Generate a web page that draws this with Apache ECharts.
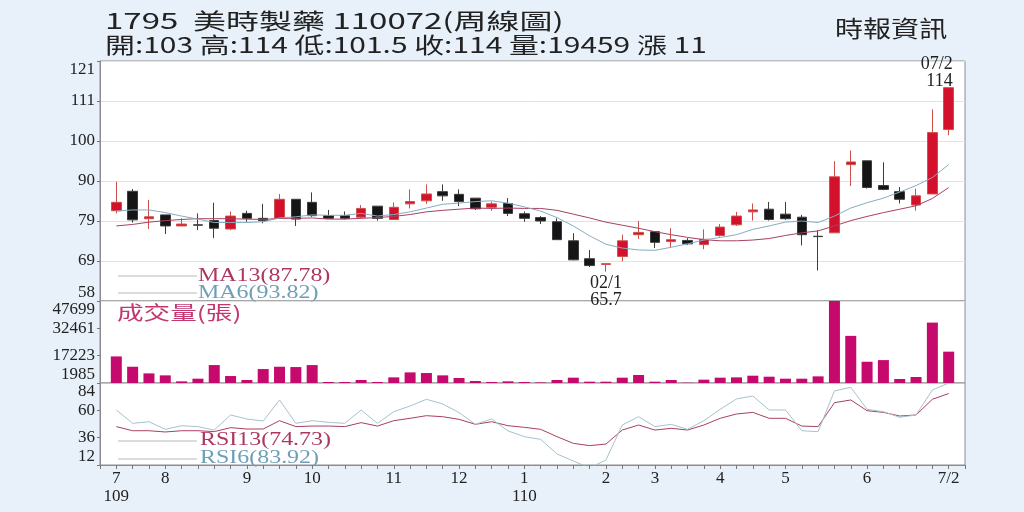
<!DOCTYPE html>
<html lang="zh-Hant">
<head>
<meta charset="UTF-8">
<title>1795 美時製藥 周線圖</title>
<script src="https://cdn.jsdelivr.net/npm/echarts@6/dist/echarts.min.js"></script>
<style>
    html, body { margin: 0; padding: 0; background: #e8f1fa; }
    #chart { width: 1024px; height: 512px; }
</style>
</head>
<body>
<div id="chart"></div>
<script type="text/javascript">
    // weekly candles, 109/07 .. 110/07/2
    var opens  = [81.7, 86.8, 79.6, 80.6, 77.7, 78.0, 79.1, 76.9, 81.0, 79.7, 79.7, 84.7, 83.9, 80.4, 80.4, 80.0, 82.9, 79.4, 83.5, 84.3, 86.7, 86.0, 85.0, 82.6, 83.6, 80.9, 79.9, 78.8, 73.8, 69.1, 67.6, 69.7, 75.4, 76.2, 73.6, 73.9, 72.8, 75.2, 78.0, 81.4, 82.1, 80.8, 80.0, 75.0, 75.9, 93.8, 94.8, 88.3, 86.7, 83.2, 86.1, 103];
    var closes = [83.9, 79.3, 80.1, 77.7, 78.2, 77.9, 77.1, 80.3, 79.7, 79.1, 84.7, 79.5, 80.4, 79.7, 79.7, 82.3, 79.7, 82.6, 84.1, 86.1, 85.6, 84.1, 82.2, 83.5, 81.0, 79.7, 79.0, 74.1, 68.8, 67.3, 67.8, 73.8, 76.0, 73.4, 74.1, 73.0, 74.2, 77.4, 80.3, 81.9, 79.4, 79.6, 75.4, 74.9, 90.6, 94.5, 87.8, 87.3, 84.7, 85.6, 102.2, 114];
    var lows   = [81.0, 78.6, 76.9, 75.6, 77.7, 76.6, 74.5, 76.6, 78.8, 78.4, 79.7, 77.7, 80.1, 79.7, 79.4, 79.7, 79.1, 79.4, 82.3, 83.5, 84.3, 82.9, 81.9, 81.7, 80.3, 78.8, 78.2, 74.1, 68.7, 66.9, 65.7, 68.4, 74.3, 71.9, 71.9, 72.7, 71.6, 74.9, 77.7, 79.1, 79.1, 79.3, 72.6, 66.0, 75.9, 88.2, 87.5, 87.1, 83.6, 81.7, 86.1, 101.5];
    var highs  = [89.3, 87.4, 84.5, 80.6, 79.7, 81.0, 83.8, 81.5, 81.7, 83.5, 86.1, 84.7, 86.5, 81.9, 81.5, 83.2, 82.9, 83.9, 87.3, 88.6, 88.6, 87.3, 85.0, 84.1, 85.0, 81.5, 80.3, 79.7, 75.8, 71.4, 67.8, 75.4, 79.0, 76.2, 77.1, 74.5, 76.8, 78.2, 81.4, 83.6, 84.0, 84.0, 80.6, 76.6, 94.7, 97.5, 94.8, 94.4, 87.9, 87.5, 108.3, 114];

    var ma13 = [77.7, 78.1, 78.7, 79.1, 79.4, 79.6, 79.6, 79.6, 79.5, 79.4, 79.7, 79.7, 79.8, 79.5, 79.5, 79.7, 79.9, 80.2, 80.7, 81.4, 81.8, 82.1, 82.4, 82.3, 82.4, 82.3, 82.3, 81.8, 80.8, 79.8, 78.7, 77.9, 77.1, 76.2, 75.4, 74.7, 74.1, 73.8, 73.8, 74.0, 74.4, 75.2, 75.9, 76.4, 77.7, 79.1, 80.2, 81.2, 82.1, 83.0, 84.9, 87.78];
    var ma6  = [81.6, 81.9, 81.9, 81.2, 80.3, 79.5, 78.6, 78.6, 78.6, 78.8, 79.8, 80.1, 80.6, 80.5, 80.5, 81.0, 80.3, 80.7, 81.4, 82.4, 83.4, 83.7, 84.1, 84.3, 83.7, 82.7, 81.6, 79.9, 77.7, 75.1, 72.9, 71.9, 71.4, 71.3, 72.1, 73.0, 74.0, 74.7, 75.4, 76.8, 77.7, 78.7, 79.0, 78.6, 80.3, 82.4, 83.8, 85.0, 86.6, 88.3, 90.4, 93.82];

    var volumes = [16800, 11050, 7350, 6240, 2910, 4390, 11980, 5870, 3650, 9760, 11050, 10870, 11980, 2540, 2540, 3650, 2540, 5130, 7900, 7540, 6240, 4760, 3100, 2540, 2910, 2540, 2300, 3650, 4950, 2730, 2730, 4950, 6430, 2730, 3650, 2150, 3840, 4950, 5130, 6060, 5500, 4390, 4390, 5690, 47699, 28260, 13830, 14750, 4210, 5320, 35660, 19459];

    var rsi13 = [45.7, 42.1, 42.1, 41.0, 42.1, 42.1, 41.3, 44.8, 43.6, 43.6, 50.9, 45.7, 46.2, 46.2, 45.7, 49.2, 46.2, 50.9, 53.0, 55.3, 54.4, 52.1, 47.7, 50.0, 46.5, 45.1, 43.3, 36.9, 31.0, 29.0, 30.4, 42.7, 47.1, 42.7, 44.2, 42.7, 47.1, 53.0, 56.8, 58.2, 53.0, 53.0, 46.2, 45.7, 66.7, 69.1, 59.7, 58.2, 55.0, 55.9, 69.7, 74.73];
    var rsi6  = [60.3, 48.6, 50.0, 43.3, 46.5, 45.7, 42.7, 55.9, 52.4, 50.6, 69.1, 48.6, 50.9, 49.5, 48.6, 60.3, 48.6, 58.8, 63.8, 69.7, 65.6, 58.0, 47.7, 52.4, 41.9, 36.9, 34.5, 21.7, 15.5, 9.5, 16.4, 47.1, 54.4, 45.7, 47.7, 43.3, 50.9, 60.9, 70.0, 72.6, 60.3, 60.3, 42.1, 41.3, 77.0, 80.2, 60.9, 58.8, 53.9, 55.9, 77.9, 83.92];

    // month labels under the weeks
    var tickIdx  = [0, 3, 8, 12, 17, 21, 25, 30, 33, 37, 41, 46, 51];
    var tickText = ['7\n109', '8', '9', '10', '11', '12', '1\n110', '2', '3', '4', '5', '6', '7/2'];

    var serif = '"Liberation Serif", "DejaVu Serif", serif';
    var cjk = '"Noto Sans CJK TC", "Noto Sans", sans-serif';

    function pairs(arr) {
        return arr.map(function (v, i) { return [i, v]; });
    }
    var candles = closes.map(function (c, i) {
        return [i, opens[i], c, lows[i], highs[i]];
    });

    var chartDom = document.getElementById('chart');
    var myChart = echarts.init(chartDom);

    var gridBase = { left: 100, right: 59, show: true, backgroundColor: '#fff', borderColor: '#8c8c8c', borderWidth: 1 };
    function grid(top, height) {
        return Object.assign({ top: top, height: height }, gridBase);
    }
    function xAxis(idx, showLabels) {
        return {
            type: 'value', gridIndex: idx, min: -1, max: 52, interval: 1,
            axisLine: { show: showLabels, onZero: false, lineStyle: { color: '#8c8c8c' } },
            axisTick: { show: showLabels, length: 4, lineStyle: { color: '#777' } },
            splitLine: { show: false },
            axisLabel: {
                show: showLabels, color: '#222', fontFamily: serif, fontSize: 17, lineHeight: 18, margin: 5,
                formatter: function (v) {
                    var k = tickIdx.indexOf(v);
                    return k < 0 ? '' : tickText[k];
                }
            }
        };
    }
    function yAxis(idx, min, max, interval, split) {
        return {
            type: 'value', gridIndex: idx, min: min, max: max, interval: interval,
            axisLine: { show: true, onZero: false, lineStyle: { color: '#8c8c8c' } },
            axisTick: { show: true, length: 3, lineStyle: { color: '#777' } },
            splitLine: { show: split, lineStyle: { color: '#e2e2e2' } },
            axisLabel: {
                color: '#222', fontFamily: serif, fontSize: 17, margin: 5,
                verticalAlignMinLabel: 'bottom', verticalAlignMaxLabel: 'top',
                formatter: function (v) { return Math.round(v); }
            }
        };
    }

    var legendLine = '#b9b9b9';
    var red = '#ae3760', blue = '#6f9fb6';

    var option = {
        animation: false,
        grid: [grid(61, 240), grid(301, 82), grid(383, 82)],
        xAxis: [xAxis(0, false), xAxis(1, false), xAxis(2, true)],
        yAxis: [
            yAxis(0, 58, 121, 10.5, true),
            yAxis(1, 1985, 47699, 15238, false),
            yAxis(2, 12, 84, 24, false)
        ],
        graphic: [
            { type: 'text', x: 105, y: 21, scaleX: 1.5, z: 100,
              style: { text: '1795  美時製藥 110072(周線圖)', font: '22px ' + cjk, fill: '#222', verticalAlign: 'middle' } },
            { type: 'text', x: 105, y: 45, scaleX: 1.36, z: 100,
              style: { text: '開:103 高:114 低:101.5 收:114 量:19459 漲 11', font: '22px ' + cjk, fill: '#222', verticalAlign: 'middle' } },
            { type: 'text', x: 835, y: 28, scaleX: 1.22, z: 100,
              style: { text: '時報資訊', font: '23px ' + cjk, fill: '#222', verticalAlign: 'middle' } },

            { type: 'line', z: 100, shape: { x1: 118, y1: 276, x2: 197, y2: 276 }, style: { stroke: legendLine, lineWidth: 1 } },
            { type: 'text', x: 198, y: 276, scaleX: 1.26, z: 100,
              style: { text: 'MA13(87.78)', font: '19px ' + serif, fill: red, verticalAlign: 'middle' } },
            { type: 'line', z: 100, shape: { x1: 118, y1: 293, x2: 197, y2: 293 }, style: { stroke: legendLine, lineWidth: 1 } },
            { type: 'text', x: 198, y: 293, scaleX: 1.26, z: 100,
              style: { text: 'MA6(93.82)', font: '19px ' + serif, fill: blue, verticalAlign: 'middle' } },

            { type: 'text', x: 117, y: 313, scaleX: 1.4, z: 100,
              style: { text: '成交量(張)', font: '19px ' + cjk, fill: '#c2376f', verticalAlign: 'middle' } },

            { type: 'line', z: 100, shape: { x1: 118, y1: 441, x2: 197, y2: 441 }, style: { stroke: legendLine, lineWidth: 1 } },
            { type: 'text', x: 200, y: 440, scaleX: 1.26, z: 100,
              style: { text: 'RSI13(74.73)', font: '19px ' + serif, fill: red, verticalAlign: 'middle' } },
            { type: 'line', z: 100, shape: { x1: 118, y1: 459, x2: 197, y2: 459 }, style: { stroke: legendLine, lineWidth: 1 } },
            { type: 'text', x: 200, y: 458, scaleX: 1.26, z: 100,
              style: { text: 'RSI6(83.92)', font: '19px ' + serif, fill: blue, verticalAlign: 'middle' } }
        ],
        series: [
            {
                name: 'K', type: 'candlestick', xAxisIndex: 0, yAxisIndex: 0,
                data: candles, encode: { x: 0, y: [1, 2, 3, 4] },
                barWidth: 10,
                itemStyle: {
                    color: '#d3112d', color0: '#151515',
                    borderColor: '#cf5048', borderColor0: '#3c3c3c',
                    borderColorDoji: '#777', borderWidth: 1
                },
                markPoint: {
                    symbol: 'circle', symbolSize: 1,
                    itemStyle: { color: 'rgba(0,0,0,0)' },
                    label: { show: true, color: '#222', fontFamily: serif, fontSize: 18, lineHeight: 17 },
                    data: [
                        { coord: [51, 114], label: { formatter: '07/2\n114', position: 'top', align: 'right', distance: 1, offset: [4, 4] } },
                        { coord: [30, 65.7], label: { formatter: '02/1\n65.7', position: 'bottom', distance: 3 } }
                    ]
                }
            },
            {
                name: 'MA13', type: 'line', xAxisIndex: 0, yAxisIndex: 0, data: pairs(ma13),
                symbol: 'none', lineStyle: { color: '#a8405f', width: 1 }
            },
            {
                name: 'MA6', type: 'line', xAxisIndex: 0, yAxisIndex: 0, data: pairs(ma6),
                symbol: 'none', lineStyle: { color: '#86adc2', width: 1 }
            },
            {
                name: '成交量', type: 'bar', xAxisIndex: 1, yAxisIndex: 1, data: pairs(volumes),
                barWidth: 11, itemStyle: { color: '#c6096c' }
            },
            {
                name: 'RSI13', type: 'line', xAxisIndex: 2, yAxisIndex: 2, data: pairs(rsi13),
                symbol: 'none', lineStyle: { color: '#a8405f', width: 1 }
            },
            {
                name: 'RSI6', type: 'line', xAxisIndex: 2, yAxisIndex: 2, data: pairs(rsi6),
                symbol: 'none', lineStyle: { color: '#a6c2ce', width: 1 }
            }
        ]
    };

    option && myChart.setOption(option);
</script>
</body>
</html>
